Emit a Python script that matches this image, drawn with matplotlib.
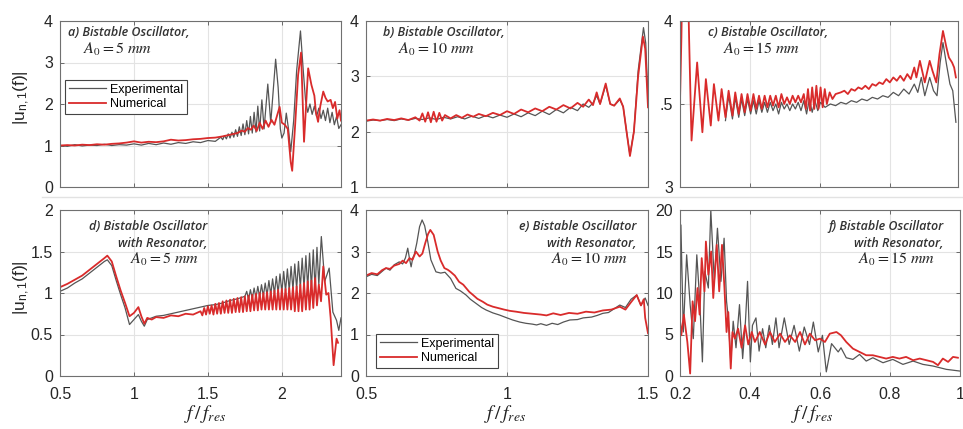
import matplotlib
matplotlib.use("Agg")
import matplotlib.pyplot as plt
from matplotlib.lines import Line2D

plt.rcParams['font.family'] = ['Liberation Sans', 'DejaVu Sans']
plt.rcParams['mathtext.fontset'] = 'stix'

# ---- panel a: bistable oscillator, A0 = 5 mm ----
a_exp_x = [0.50, 0.55, 0.60, 0.65, 0.70, 0.75, 0.80, 0.85, 0.90, 0.95, 1.00, 1.05, 1.10, 1.15,
           1.20, 1.25, 1.30, 1.35, 1.40, 1.45, 1.50, 1.55, 1.5875, 1.60, 1.6125, 1.625, 1.6375,
           1.65, 1.6625, 1.675, 1.6875, 1.70, 1.7125, 1.725, 1.7375, 1.75, 1.7625, 1.775, 1.7875,
           1.80, 1.8125, 1.825, 1.8375, 1.85, 1.865, 1.88, 1.905, 1.925, 1.958, 1.975, 1.99, 2.00,
           2.015, 2.03, 2.045, 2.06, 2.08, 2.10, 2.126, 2.145, 2.16, 2.175, 2.19, 2.205, 2.22,
           2.235, 2.25, 2.265, 2.28, 2.295, 2.31, 2.325, 2.34, 2.355, 2.37, 2.385, 2.40]
a_exp_y = [1.00, 0.98, 1.02, 0.99, 1.01, 1.00, 1.03, 1.00, 1.02, 1.01, 1.04, 1.01, 1.05, 1.02,
           1.06, 1.03, 1.07, 1.05, 1.09, 1.07, 1.12, 1.10, 1.20, 1.14, 1.24, 1.16, 1.28,
           1.18, 1.32, 1.20, 1.38, 1.22, 1.45, 1.24, 1.52, 1.26, 1.60, 1.28, 1.70,
           1.30, 1.80, 1.32, 1.95, 1.35, 2.10, 1.40, 2.48, 1.55, 3.08, 2.40, 1.40, 1.18,
           1.30, 1.78, 1.40, 0.85, 1.60, 2.80, 3.76, 2.80, 2.10, 1.80, 2.00, 1.75, 1.95,
           1.70, 1.90, 1.65, 1.85, 1.60, 1.90, 1.55, 1.80, 1.50, 1.70, 1.41, 1.50]
a_num_x = [0.50, 0.55, 0.60, 0.65, 0.70, 0.75, 0.80, 0.85, 0.90, 0.95, 1.00, 1.05, 1.10, 1.15,
           1.20, 1.25, 1.30, 1.35, 1.40, 1.45, 1.50, 1.55, 1.60, 1.65, 1.70, 1.73, 1.75, 1.77,
           1.79, 1.81, 1.83, 1.85, 1.87, 1.89, 1.91, 1.93, 1.95, 1.97, 1.985, 2.00, 2.02, 2.04,
           2.06, 2.07, 2.09, 2.11, 2.13, 2.15, 2.178, 2.20, 2.22, 2.23, 2.245, 2.26, 2.28, 2.295,
           2.31, 2.33, 2.345, 2.36, 2.375, 2.39, 2.40]
a_num_y = [1.00, 1.01, 1.00, 1.02, 1.01, 1.03, 1.02, 1.04, 1.05, 1.07, 1.10, 1.07, 1.09, 1.08,
           1.10, 1.14, 1.12, 1.13, 1.15, 1.16, 1.18, 1.19, 1.22, 1.26, 1.30, 1.36, 1.33, 1.42,
           1.38, 1.48, 1.35, 1.55, 1.40, 1.60, 1.45, 1.62, 1.50, 1.75, 1.93, 1.55, 1.50, 1.40,
           0.60, 0.39, 1.50, 2.70, 3.24, 1.09, 2.86, 2.46, 2.20, 1.81, 1.57, 1.95, 2.30, 2.15,
           2.06, 2.10, 1.90, 2.05, 1.65, 1.85, 1.60]

# ---- panel b: bistable oscillator, A0 = 10 mm ----
b_exp_x = [0.50, 0.525, 0.55, 0.575, 0.60, 0.625, 0.65, 0.675, 0.70, 0.725, 0.75, 0.775, 0.80,
           0.825, 0.85, 0.875, 0.90, 0.925, 0.95, 0.975, 1.00, 1.025, 1.05, 1.075, 1.10, 1.125,
           1.15, 1.175, 1.20, 1.225, 1.25, 1.27, 1.29, 1.305, 1.318, 1.33, 1.35, 1.366, 1.38,
           1.40, 1.412, 1.424, 1.436, 1.45, 1.465, 1.484, 1.492, 1.50]
b_exp_y = [2.19, 2.21, 2.20, 2.22, 2.20, 2.23, 2.21, 2.24, 2.22, 2.25, 2.22, 2.26, 2.23,
           2.27, 2.23, 2.28, 2.24, 2.29, 2.25, 2.30, 2.26, 2.32, 2.27, 2.34, 2.29, 2.37,
           2.31, 2.40, 2.34, 2.44, 2.38, 2.50, 2.44, 2.52, 2.65, 2.50, 2.84, 2.50, 2.47,
           2.58, 2.45, 2.00, 1.58, 2.00, 3.10, 3.88, 3.60, 2.60]
b_num_x = [0.50, 0.525, 0.55, 0.575, 0.60, 0.625, 0.65, 0.675, 0.69, 0.70, 0.71, 0.72, 0.73,
           0.74, 0.75, 0.76, 0.77, 0.78, 0.80, 0.82, 0.84, 0.86, 0.88, 0.90, 0.925, 0.95, 0.975,
           1.00, 1.025, 1.05, 1.075, 1.10, 1.125, 1.15, 1.175, 1.20, 1.225, 1.25, 1.27, 1.29,
           1.305, 1.318, 1.33, 1.35, 1.366, 1.38, 1.40, 1.412, 1.424, 1.436, 1.45, 1.465,
           1.482, 1.49, 1.50]
b_num_y = [2.20, 2.22, 2.20, 2.23, 2.21, 2.24, 2.21, 2.26, 2.20, 2.33, 2.18, 2.35, 2.17,
           2.36, 2.18, 2.34, 2.20, 2.30, 2.24, 2.30, 2.25, 2.31, 2.27, 2.32, 2.28, 2.34, 2.30,
           2.37, 2.32, 2.40, 2.35, 2.42, 2.37, 2.45, 2.40, 2.48, 2.42, 2.52, 2.45, 2.58,
           2.48, 2.71, 2.50, 2.87, 2.50, 2.47, 2.60, 2.45, 2.00, 1.56, 2.00, 3.00,
           3.72, 3.50, 2.44]

# ---- panel c: bistable oscillator, A0 = 15 mm ----
c_exp_x = [0.330, 0.339, 0.350, 0.358, 0.368, 0.376, 0.385, 0.393, 0.402, 0.410, 0.418, 0.426,
           0.434, 0.442, 0.450, 0.458, 0.466, 0.474, 0.482, 0.490, 0.498, 0.506, 0.514, 0.522,
           0.530, 0.538, 0.546, 0.554, 0.562, 0.570, 0.578, 0.586, 0.594, 0.602, 0.615, 0.63,
           0.645, 0.66, 0.675, 0.69, 0.705, 0.72, 0.735, 0.75, 0.765, 0.78, 0.795, 0.81, 0.825,
           0.84, 0.855, 0.87, 0.88, 0.89, 0.90, 0.914, 0.925, 0.935, 0.944, 0.952, 0.962,
           0.972, 0.98, 0.989]
c_exp_y = [3.40, 3.55, 3.41, 3.54, 3.42, 3.53, 3.43, 3.53, 3.44, 3.52, 3.44, 3.52,
           3.45, 3.51, 3.45, 3.51, 3.46, 3.50, 3.44, 3.51, 3.47, 3.50, 3.46, 3.50,
           3.47, 3.51, 3.46, 3.52, 3.44, 3.53, 3.45, 3.52, 3.46, 3.51, 3.48, 3.50,
           3.49, 3.51, 3.50, 3.52, 3.51, 3.53, 3.52, 3.54, 3.53, 3.55, 3.54, 3.57, 3.55,
           3.59, 3.56, 3.62, 3.57, 3.66, 3.55, 3.66, 3.58, 3.55, 3.75, 3.87, 3.74,
           3.62, 3.58, 3.39]
c_num_x = [0.200, 0.204, 0.207, 0.222, 0.226, 0.233, 0.249, 0.264, 0.274, 0.288, 0.297, 0.310,
           0.319, 0.330, 0.339, 0.350, 0.358, 0.368, 0.376, 0.385, 0.393, 0.402, 0.410, 0.418,
           0.426, 0.434, 0.442, 0.450, 0.458, 0.466, 0.474, 0.482, 0.490, 0.498, 0.506, 0.514,
           0.522, 0.530, 0.538, 0.546, 0.554, 0.560, 0.566, 0.572, 0.578, 0.584, 0.590, 0.596,
           0.602, 0.608, 0.614, 0.620, 0.628, 0.636, 0.645, 0.66, 0.67, 0.68, 0.69, 0.70, 0.71,
           0.72, 0.73, 0.74, 0.75, 0.76, 0.77, 0.78, 0.79, 0.80, 0.81, 0.82, 0.83, 0.84, 0.85,
           0.86, 0.87, 0.876, 0.886, 0.90, 0.914, 0.922, 0.933, 0.942, 0.952, 0.962, 0.969,
           0.978, 0.984, 0.989]
c_num_y = [3.52, 3.90, 4.30, 4.30, 3.90, 3.28, 3.75, 3.33, 3.65, 3.37, 3.62, 3.40,
           3.59, 3.42, 3.58, 3.43, 3.57, 3.44, 3.56, 3.45, 3.56, 3.46, 3.56, 3.47,
           3.55, 3.47, 3.55, 3.48, 3.55, 3.49, 3.55, 3.48, 3.56, 3.50, 3.54, 3.50,
           3.55, 3.51, 3.55, 3.51, 3.56, 3.47, 3.59, 3.46, 3.60, 3.47, 3.61, 3.47,
           3.60, 3.48, 3.59, 3.50, 3.57, 3.53, 3.56, 3.57, 3.58, 3.56, 3.59, 3.58, 3.60,
           3.59, 3.61, 3.59, 3.62, 3.61, 3.63, 3.62, 3.65, 3.63, 3.66, 3.64, 3.67, 3.64, 3.68,
           3.65, 3.72, 3.66, 3.76, 3.63, 3.76, 3.70, 3.63, 3.80, 3.94, 3.84, 3.78,
           3.75, 3.72, 3.66]

# ---- panel d: with resonator, A0 = 5 mm ----
d_exp_x = [0.50, 0.55, 0.60, 0.65, 0.70, 0.75, 0.80, 0.82, 0.85, 0.88, 0.91, 0.94, 0.97, 1.00,
           1.03, 1.05, 1.07, 1.09, 1.12, 1.15, 1.20, 1.25, 1.30, 1.35, 1.40, 1.45, 1.50, 1.55,
           1.60, 1.65, 1.70, 1.75, 1.7625, 1.775, 1.7875, 1.80, 1.8125, 1.825, 1.8375, 1.85,
           1.8625, 1.875, 1.8875, 1.90, 1.9125, 1.925, 1.9375, 1.95, 1.9625, 1.975, 1.9875, 2.00,
           2.0125, 2.025, 2.0375, 2.05, 2.0625, 2.075, 2.0875, 2.10, 2.1125, 2.125, 2.1375, 2.15,
           2.1625, 2.175, 2.1875, 2.20, 2.2125, 2.225, 2.2375, 2.25, 2.267, 2.29, 2.32, 2.345,
           2.37, 2.385, 2.40]
d_exp_y = [1.02, 1.06, 1.12, 1.17, 1.24, 1.31, 1.38, 1.40, 1.33, 1.15, 0.98, 0.82, 0.62, 0.68,
           0.74, 0.66, 0.60, 0.68, 0.70, 0.72, 0.73, 0.75, 0.77, 0.79, 0.81, 0.83, 0.85, 0.86,
           0.88, 0.91, 0.93, 0.96, 1.02, 0.92, 1.04, 0.93, 1.06, 0.94, 1.08, 0.95,
           1.10, 0.96, 1.12, 0.97, 1.15, 0.98, 1.17, 0.99, 1.20, 1.00, 1.23, 1.01,
           1.26, 1.02, 1.29, 1.03, 1.32, 1.04, 1.35, 1.05, 1.38, 1.06, 1.42, 1.06,
           1.45, 1.06, 1.48, 1.05, 1.52, 1.04, 1.55, 1.10, 1.68, 1.14, 1.30, 0.77,
           0.67, 0.55, 0.70]
d_num_x = [0.50, 0.55, 0.60, 0.65, 0.70, 0.75, 0.80, 0.82, 0.85, 0.88, 0.91, 0.94, 0.97, 1.00,
           1.03, 1.05, 1.07, 1.09, 1.12, 1.15, 1.20, 1.25, 1.30, 1.35, 1.40, 1.45, 1.4625, 1.475,
           1.4875, 1.50, 1.5125, 1.525, 1.5375, 1.55, 1.5625, 1.575, 1.5875, 1.60, 1.6125, 1.625,
           1.6375, 1.65, 1.6625, 1.675, 1.6875, 1.70, 1.7125, 1.725, 1.7375, 1.75, 1.7625, 1.775,
           1.7875, 1.80, 1.8125, 1.825, 1.8375, 1.85, 1.8625, 1.875, 1.8875, 1.90, 1.9125, 1.925,
           1.9375, 1.95, 1.9625, 1.975, 1.9875, 2.00, 2.0125, 2.025, 2.0375, 2.05, 2.0625, 2.075,
           2.0875, 2.10, 2.1125, 2.125, 2.1375, 2.15, 2.1625, 2.175, 2.1875, 2.20, 2.2125, 2.225,
           2.2375, 2.25, 2.265, 2.28, 2.30, 2.315, 2.33, 2.35, 2.37, 2.38]
d_num_y = [1.07, 1.11, 1.16, 1.21, 1.28, 1.35, 1.42, 1.45, 1.38, 1.20, 1.03, 0.88, 0.72, 0.76,
           0.83, 0.72, 0.63, 0.70, 0.68, 0.71, 0.70, 0.73, 0.72, 0.75, 0.74, 0.78, 0.73, 0.82,
           0.74, 0.84, 0.75, 0.85, 0.74, 0.87, 0.75, 0.88, 0.75, 0.90, 0.76, 0.91,
           0.76, 0.92, 0.76, 0.93, 0.77, 0.94, 0.77, 0.95, 0.77, 0.96, 0.78, 0.97,
           0.78, 0.98, 0.79, 0.99, 0.79, 1.00, 0.80, 1.00, 0.80, 1.01, 0.80, 1.02,
           0.80, 1.03, 0.80, 1.04, 0.80, 1.05, 0.80, 1.05, 0.80, 1.06, 0.80, 1.07,
           0.78, 1.08, 0.78, 1.10, 0.78, 1.12, 0.80, 1.14, 0.80, 1.15, 0.82, 1.18,
           0.85, 1.10, 0.90, 1.32, 0.98, 1.00, 0.70, 0.13, 0.45, 0.40]

# ---- panel e: with resonator, A0 = 10 mm ----
e_exp_x = [0.50, 0.52, 0.54, 0.557, 0.571, 0.585, 0.60, 0.618, 0.63, 0.64, 0.648, 0.655, 0.66,
           0.666, 0.671, 0.68, 0.69, 0.699, 0.708, 0.719, 0.73, 0.748, 0.765, 0.78, 0.80, 0.819,
           0.835, 0.855, 0.87, 0.89, 0.91, 0.926, 0.95, 0.973, 1.00, 1.02, 1.045, 1.067, 1.09,
           1.105, 1.12, 1.14, 1.16, 1.18, 1.20, 1.223, 1.25, 1.27, 1.30, 1.32, 1.34, 1.36, 1.38,
           1.40, 1.42, 1.44, 1.46, 1.475, 1.49, 1.50]
e_exp_y = [2.39, 2.45, 2.42, 2.52, 2.60, 2.55, 2.68, 2.75, 2.70, 2.85, 3.08, 2.80, 2.63,
           2.85, 2.92, 3.20, 3.60, 3.76, 3.62, 3.24, 2.80, 2.51, 2.48, 2.50, 2.35, 2.11,
           2.05, 1.95, 1.85, 1.75, 1.65, 1.59, 1.52, 1.47, 1.40, 1.35, 1.30, 1.27, 1.25,
           1.23, 1.26, 1.22, 1.27, 1.24, 1.30, 1.35, 1.36, 1.40, 1.42, 1.46, 1.51, 1.53, 1.62,
           1.71, 1.65, 1.85, 1.95, 1.70, 1.88, 1.70]
e_num_x = [0.50, 0.52, 0.54, 0.557, 0.571, 0.585, 0.60, 0.618, 0.63, 0.642, 0.654, 0.665, 0.677,
           0.69, 0.70, 0.71, 0.72, 0.728, 0.74, 0.754, 0.765, 0.778, 0.79, 0.80, 0.815, 0.83,
           0.845, 0.866, 0.88, 0.895, 0.914, 0.93, 0.95, 0.973, 0.99, 1.01, 1.032, 1.06, 1.09,
           1.12, 1.14, 1.164, 1.19, 1.22, 1.25, 1.28, 1.31, 1.34, 1.37, 1.40, 1.42, 1.44, 1.46,
           1.475, 1.485, 1.49, 1.50]
e_num_y = [2.42, 2.48, 2.45, 2.55, 2.60, 2.58, 2.66, 2.70, 2.78, 2.72, 2.84, 2.80, 3.00,
           2.88, 2.95, 3.20, 3.42, 3.52, 3.40, 3.00, 2.78, 2.60, 2.56, 2.51, 2.42, 2.27,
           2.20, 2.03, 1.95, 1.86, 1.79, 1.72, 1.67, 1.63, 1.60, 1.57, 1.55, 1.52, 1.50,
           1.48, 1.46, 1.51, 1.47, 1.52, 1.50, 1.55, 1.53, 1.58, 1.60, 1.67, 1.60, 1.78, 1.95,
           1.70, 1.85, 1.40, 1.03]

# ---- panel f: with resonator, A0 = 15 mm ----
f_exp_x = [0.200, 0.2026, 0.2095, 0.219, 0.229, 0.238, 0.248, 0.257, 0.264, 0.271, 0.281, 0.288,
           0.298, 0.307, 0.317, 0.326, 0.333, 0.338, 0.345, 0.352, 0.360, 0.370, 0.379, 0.387,
           0.393, 0.401, 0.407, 0.417, 0.426, 0.436, 0.445, 0.455, 0.464, 0.474, 0.483, 0.498,
           0.512, 0.526, 0.541, 0.555, 0.570, 0.581, 0.595, 0.607, 0.618, 0.633, 0.652, 0.660,
           0.675, 0.694, 0.713, 0.732, 0.751, 0.780, 0.808, 0.837, 0.866, 0.894, 0.923, 0.961,
           0.999]
f_exp_y = [6.1, 18.2, 5.3, 14.6, 8.6, 4.5, 14.6, 8.6, 1.7, 12.6, 10.6, 20.0,
           11.4, 17.8, 11.4, 16.6, 9.0, 7.0, 1.7, 6.6, 3.4, 8.6, 2.1, 6.6,
           11.4, 1.7, 6.1, 7.0, 3.0, 5.7, 3.4, 6.1, 3.8, 7.0, 3.4, 7.0,
           3.8, 6.1, 3.0, 5.9, 3.8, 6.5, 2.9, 4.9, 0.5, 3.9, 2.9, 3.4,
           2.2, 2.0, 2.6, 1.8, 2.2, 1.6, 2.0, 1.4, 1.8, 1.4, 1.2, 0.8,
           0.6]
f_num_x = [0.200, 0.2036, 0.211, 0.221, 0.229, 0.236, 0.243, 0.250, 0.256, 0.262, 0.270, 0.274,
           0.281, 0.289, 0.295, 0.305, 0.312, 0.320, 0.327, 0.333, 0.338, 0.345, 0.350, 0.357,
           0.366, 0.376, 0.386, 0.395, 0.405, 0.414, 0.428, 0.443, 0.457, 0.471, 0.486, 0.500,
           0.514, 0.529, 0.543, 0.557, 0.571, 0.586, 0.600, 0.614, 0.628, 0.647, 0.660, 0.675,
           0.694, 0.713, 0.732, 0.751, 0.770, 0.789, 0.808, 0.827, 0.846, 0.866, 0.885, 0.904,
           0.923, 0.937, 0.951, 0.966, 0.980, 0.994]
f_num_y = [6.7, 4.9, 7.4, 4.1, 0.3, 9.0, 6.6, 10.6, 7.4, 14.2, 10.2, 16.2,
           12.2, 15.0, 9.4, 15.8, 10.2, 15.8, 10.6, 5.3, 7.7, 0.9, 5.3, 4.5,
           5.7, 3.4, 6.1, 3.8, 5.3, 4.1, 5.3, 3.8, 5.3, 4.1, 5.1, 4.1,
           4.9, 4.1, 5.3, 3.8, 5.1, 4.3, 4.5, 4.1, 5.1, 5.3, 4.9, 4.1,
           3.3, 2.9, 2.5, 2.5, 2.3, 2.1, 2.3, 2.1, 2.3, 1.9, 2.1, 1.9,
           1.7, 1.3, 2.1, 1.7, 2.3, 2.2]

EXP_COLOR = '#555555'
NUM_COLOR = '#d92b2b'

fig = plt.figure(figsize=(9.63, 4.29), dpi=100)

W, H = 963.0, 429.0
def axes_px(l, t, r, b):
    return fig.add_axes([l / W, 1 - b / H, (r - l) / W, (b - t) / H])

# faint separator between the two rows of the composite
fig.add_artist(Line2D([42 / W, 1.0], [1 - 197 / H, 1 - 197 / H], color='#e2e2e2', lw=1.0))

ax_a = axes_px(60, 21, 341, 187)
ax_b = axes_px(366, 21, 648, 187)
ax_c = axes_px(680, 21, 958, 187)
ax_d = axes_px(60, 210, 341, 376)
ax_e = axes_px(366, 210, 648, 376)
ax_f = axes_px(680, 210, 960, 376)

panels = [
    (ax_a, a_exp_x, a_exp_y, a_num_x, a_num_y),
    (ax_b, b_exp_x, b_exp_y, b_num_x, b_num_y),
    (ax_c, c_exp_x, c_exp_y, c_num_x, c_num_y),
    (ax_d, d_exp_x, d_exp_y, d_num_x, d_num_y),
    (ax_e, e_exp_x, e_exp_y, e_num_x, e_num_y),
    (ax_f, f_exp_x, f_exp_y, f_num_x, f_num_y),
]

for ax, ex, ey, nx, ny in panels:
    ax.plot(ex, ey, color=EXP_COLOR, lw=0.9, label='Experimental')
    ax.plot(nx, ny, color=NUM_COLOR, lw=1.3, label='Numerical')
    ax.grid(True, color='#e3e3e3', lw=0.8)
    ax.set_axisbelow(True)
    ax.tick_params(direction='in', length=3, width=0.6, color='#555555',
                   labelsize=11.5, labelcolor='#262626', top=True, right=True)
    ax.tick_params(axis='y', pad=5)
    ax.tick_params(axis='x', pad=8)
    for s in ax.spines.values():
        s.set_color('#707070')
        s.set_linewidth(0.8)

# limits and ticks
ax_a.set_xlim(0.5, 2.4); ax_a.set_ylim(0, 4)
ax_a.set_xticks([0.5, 1, 1.5, 2]); ax_a.set_xticklabels([])
ax_a.set_yticks([0, 1, 2, 3, 4])

ax_b.set_xlim(0.5, 1.5); ax_b.set_ylim(1, 4)
ax_b.set_xticks([0.5, 1, 1.5]); ax_b.set_xticklabels([])
ax_b.set_yticks([1, 2, 3, 4])

ax_c.set_xlim(0.2, 0.995); ax_c.set_ylim(3, 4)
ax_c.set_xticks([0.2, 0.4, 0.6, 0.8]); ax_c.set_xticklabels([])
ax_c.set_yticks([3, 3.5, 4]); ax_c.set_yticklabels(['3', '.5', '4'])

ax_d.set_xlim(0.5, 2.4); ax_d.set_ylim(0, 2)
ax_d.set_xticks([0.5, 1, 1.5, 2]); ax_d.set_xticklabels(['0.5', '1', '1.5', '2'])
ax_d.set_yticks([0, 0.5, 1, 1.5, 2]); ax_d.set_yticklabels(['0', '0.5', '1', '1.5', '2'])

ax_e.set_xlim(0.5, 1.5); ax_e.set_ylim(0, 4)
ax_e.set_xticks([0.5, 1, 1.5]); ax_e.set_xticklabels(['0.5', '1', '1.5'])
ax_e.set_yticks([0, 1, 2, 3, 4])

ax_f.set_xlim(0.2, 1.0); ax_f.set_ylim(0, 20)
ax_f.set_xticks([0.2, 0.4, 0.6, 0.8, 1.0]); ax_f.set_xticklabels(['0.2', '0.4', '0.6', '0.8', '1'])
ax_f.set_yticks([0, 5, 10, 15, 20])

# panel annotations
title_kw = dict(fontfamily='Open Sans', style='italic', fontweight='semibold',
                fontsize=9, color='#333333')
amp_kw = dict(fontsize=11.5, color='#222222')

ax_a.text(0.03, 0.93, 'a) Bistable Oscillator,', transform=ax_a.transAxes, va='center', **title_kw)
ax_a.text(0.083, 0.83, r'$A_0 = 5\ mm$', transform=ax_a.transAxes, va='center', **amp_kw)
ax_b.text(0.06, 0.93, 'b) Bistable Oscillator,', transform=ax_b.transAxes, va='center', **title_kw)
ax_b.text(0.113, 0.83, r'$A_0 = 10\ mm$', transform=ax_b.transAxes, va='center', **amp_kw)
ax_c.text(0.10, 0.93, 'c) Bistable Oscillator,', transform=ax_c.transAxes, va='center', **title_kw)
ax_c.text(0.153, 0.83, r'$A_0 = 15\ mm$', transform=ax_c.transAxes, va='center', **amp_kw)

for ax, letter, xr, a0 in [(ax_d, 'd', 0.524, '5'), (ax_e, 'e', 0.96, '10'), (ax_f, 'f', 0.94, '15')]:
    ax.text(xr, 0.90, letter + ') Bistable Oscillator', transform=ax.transAxes,
            ha='right', va='center', **title_kw)
    ax.text(xr, 0.80, 'with Resonator,', transform=ax.transAxes,
            ha='right', va='center', **title_kw)
    ax.text(xr - 0.03, 0.70, r'$A_0 = ' + a0 + r'\ mm$', transform=ax.transAxes,
            ha='right', va='center', **amp_kw)

leg_kw = dict(fontsize=9, handlelength=3.0, frameon=True, fancybox=False,
              edgecolor='#444444', framealpha=1, borderpad=0.3, labelspacing=0.2,
              handletextpad=0.3, borderaxespad=0)
la = ax_a.legend(loc='upper left', bbox_to_anchor=(0.018, 0.645), **leg_kw)
le = ax_e.legend(loc='lower left', bbox_to_anchor=(0.035, 0.048), **leg_kw)
for lg in (la, le):
    lg.get_frame().set_linewidth(0.8)

# axis labels
ylab = r'$\mathregular{|u_{n,1}(f)|}$'
fig.text(22 / W, 1 - 98 / H, ylab, rotation=90, ha='center', va='center', fontsize=12.5, color='#262626')
fig.text(22 / W, 1 - 288 / H, ylab, rotation=90, ha='center', va='center', fontsize=12.5, color='#262626')
for xc in (205, 505, 812):
    fig.text(xc / W, 1 - 414 / H, r'$f\,/\,f_{res}$', ha='center', va='center', fontsize=14, color='#222222')

fig.savefig('out.png', dpi=100)
